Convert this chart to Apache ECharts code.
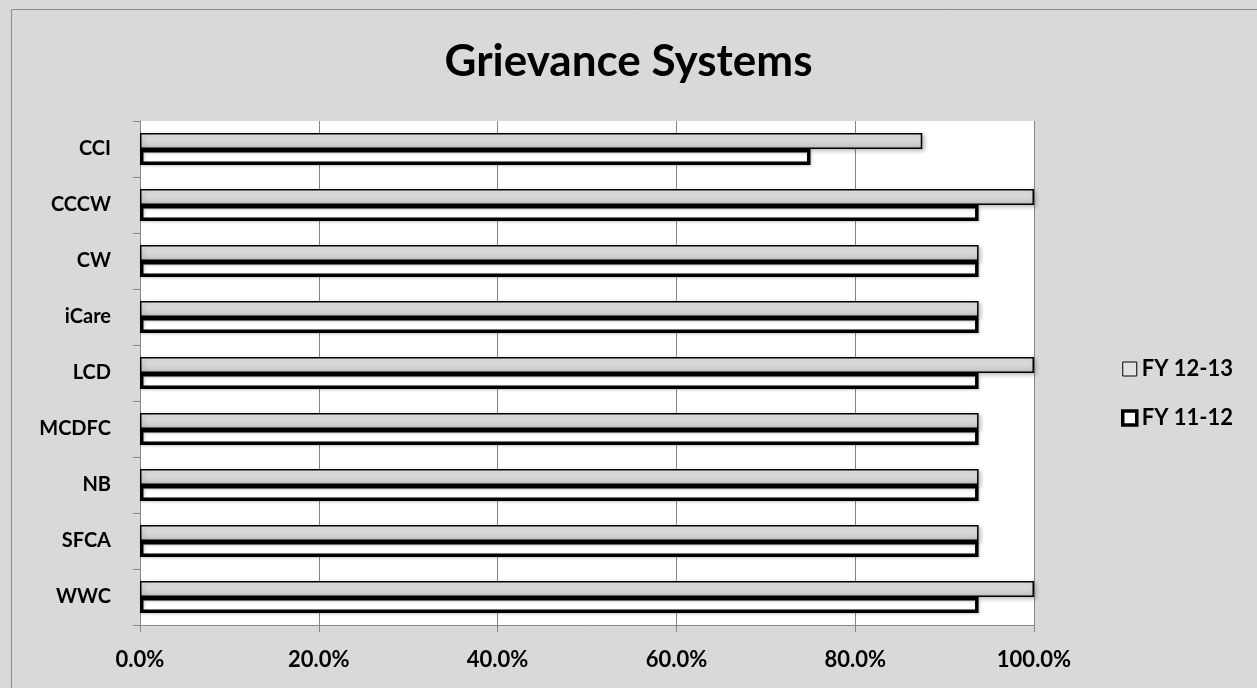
<!DOCTYPE html>
<html>
<head>
<meta charset="utf-8">
<script src="https://cdn.jsdelivr.net/npm/echarts@6/dist/echarts.min.js"></script>
<style>
  html, body { margin: 0; padding: 0; background: #d9d9d9; }
  #chart { width: 1257px; height: 688px; }
</style>
</head>
<body>
<div id="chart"></div>
<script>
// Grievance system compliance by facility, two fiscal years (percent)
const categories = ['CCI', 'CCCW', 'CW', 'iCare', 'LCD', 'MCDFC', 'NB', 'SFCA', 'WWC'];
const fy1213 = [87.5, 100, 93.8, 93.8, 100, 93.8, 93.8, 93.8, 100];
const fy1112 = [75, 93.8, 93.8, 93.8, 93.8, 93.8, 93.8, 93.8, 93.8];
const xTicks = [0, 20, 40, 60, 80, 100];

const FONT = 'Lato, "Open Sans", sans-serif';
const chart = echarts.init(document.getElementById('chart'));

const greyFill = new echarts.graphic.LinearGradient(0, 0, 0, 1, [
  { offset: 0, color: '#ececec' },
  { offset: 0.5, color: '#d8d8d8' },
  { offset: 1, color: '#bfbfbf' }
]);

chart.setOption({
  backgroundColor: '#d9d9d9',
  animation: false,
  graphic: [{
    type: 'rect',
    shape: { x: 11.5, y: 9.5, width: 1300, height: 700 },
    style: { fill: 'none', stroke: '#8c8c8c', lineWidth: 1 },
    silent: true
  }],
  title: {
    text: 'Grievance Systems',
    left: 'center',
    top: 35,
    textStyle: { fontFamily: FONT, fontSize: 44, fontWeight: 'bold', color: '#000' }
  },
  legend: {
    orient: 'vertical',
    left: 1116,
    top: 353,
    itemGap: 27,
    itemWidth: 14,
    itemHeight: 14,
    icon: 'rect',
    data: [
      { name: 'FY 12-13', itemStyle: { color: '#e2e2e2', borderColor: '#000', borderWidth: 1, shadowBlur: 0, shadowOffsetX: 0, shadowOffsetY: 0 } },
      { name: 'FY 11-12', itemStyle: { color: '#ffffff', borderColor: '#000', borderWidth: 3.5, shadowBlur: 0, shadowOffsetX: 0, shadowOffsetY: 0 } }
    ],
    textStyle: { fontFamily: FONT, fontSize: 22, fontWeight: 'bold', color: '#000' }
  },
  grid: {
    left: 140, right: 223, top: 121, bottom: 63,
    show: true, backgroundColor: '#ffffff', borderWidth: 0
  },
  xAxis: {
    type: 'value',
    min: 0,
    max: 100,
    interval: 20,
    axisLine: { show: true, lineStyle: { color: '#868686', width: 1 } },
    axisTick: { show: true, length: 7, lineStyle: { color: '#868686' } },
    splitLine: { show: true, lineStyle: { color: '#868686', width: 1 } },
    axisLabel: {
      margin: 24,
      fontFamily: FONT, fontSize: 22, fontWeight: 'bold', color: '#000',
      customValues: xTicks,
      formatter: v => v.toFixed(1) + '%'
    }
  },
  yAxis: {
    type: 'category',
    inverse: true,
    data: categories,
    axisLine: { show: true, lineStyle: { color: '#868686', width: 1 } },
    axisTick: { show: true, length: 7, alignWithLabel: false, lineStyle: { color: '#868686' } },
    splitLine: { show: false },
    axisLabel: { margin: 29, fontFamily: FONT, fontSize: 20, fontWeight: 'bold', color: '#000' }
  },
  series: [
    {
      name: 'FY 12-13',
      type: 'bar',
      data: fy1213,
      barWidth: 16,
      barGap: '0%',
      itemStyle: {
        color: greyFill,
        borderColor: '#000',
        borderWidth: 1.5,
        shadowBlur: 4,
        shadowColor: 'rgba(0,0,0,0.25)',
        shadowOffsetX: 2,
        shadowOffsetY: 2
      }
    },
    {
      name: 'FY 11-12',
      type: 'bar',
      data: fy1112,
      barWidth: 16,
      barGap: '0%',
      itemStyle: {
        color: '#ffffff',
        borderColor: '#000',
        borderWidth: 3.5,
        shadowBlur: 3,
        shadowColor: 'rgba(0,0,0,0.2)',
        shadowOffsetX: 1,
        shadowOffsetY: 1
      }
    }
  ]
});
</script>
</body>
</html>
